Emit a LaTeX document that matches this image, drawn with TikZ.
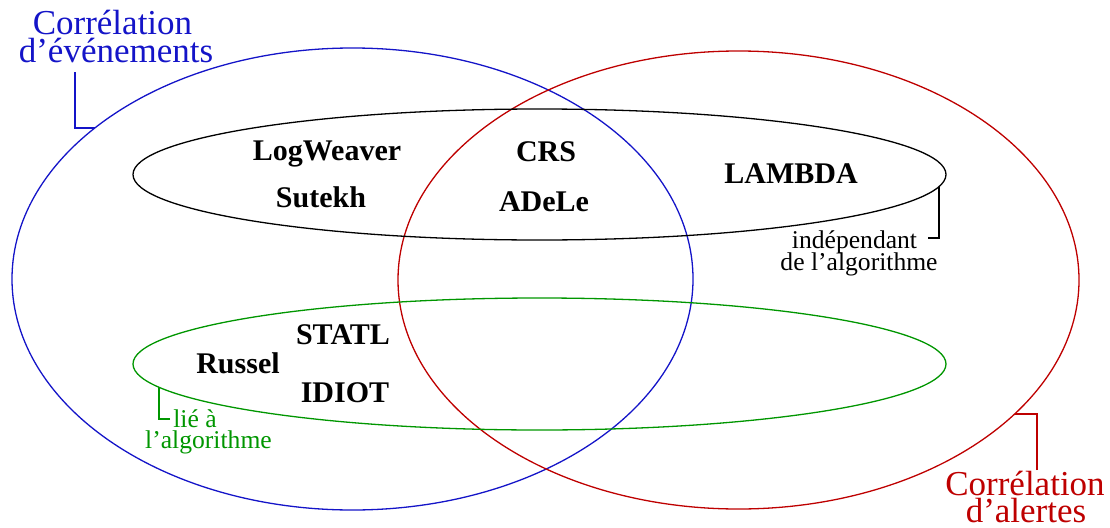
\documentclass[tikz,border=0pt]{standalone}
\usepackage{fontspec}
\setmainfont{Liberation Serif}
\definecolor{eblue}{RGB}{20,20,200}
\definecolor{ered}{RGB}{190,0,0}
\definecolor{egreen}{RGB}{0,150,0}
\tikzset{
  setline/.style={line width=1.3pt},
  tool/.style={font=\fontsize{30}{30}\selectfont\bfseries, anchor=base, inner sep=0pt},
  big/.style={font=\fontsize{35}{28}\selectfont, anchor=base, inner sep=0pt},
  small/.style={font=\fontsize{25.6}{22}\selectfont, anchor=base, inner sep=0pt},
  leader/.style={line width=1.2pt}
}
\begin{document}
\begin{tikzpicture}[x=1pt,y=-1pt]
\useasboundingbox (0,0) rectangle (1110,527);
% sets
\draw[setline,eblue] (352.5,279) ellipse [x radius=340.5, y radius=231];
\draw[setline,ered] (738.5,280) ellipse [x radius=340.5, y radius=229];
\draw[setline,black] (539.5,174.5) ellipse [x radius=406.5, y radius=65.5];
\draw[setline,egreen] (539.5,364) ellipse [x radius=406.5, y radius=66];
% tools
\node[tool] (logweaver) at (327,160) {LogWeaver};
\node[tool] (sutekh) at (321,207) {Sutekh};
\node[tool] (crs) at (546,161) {CRS};
\node[tool] (adele) at (544,211) {ADeLe};
\node[tool] (lambda) at (791,183) {LAMBDA};
\node[tool] (statl) at (343,344) {STATL};
\node[tool] (russel) at (238,373) {Russel};
\node[tool] (idiot) at (345,402) {IDIOT};
% labels
\node[big,eblue] (evt1) at (112.5,35) {Corrélation};
\node[big,eblue] (evt2) at (116,63) {d’événements};
\node[big,ered] (al1) at (1025,495) {Corrélation};
\node[big,ered] (al2) at (1026,522) {d’alertes};
\node[small,black] (ind1) at (854.5,248) {indépendant};
\node[small,black] (ind2) at (859,270) {de l’algorithme};
\node[small,egreen] (lie1) at (195,427) {lié à};
\node[small,egreen] (lie2) at (208.5,448) {l’algorithme};
% leaders
\coordinate (bA) at (75,72);   \coordinate (bB) at (95,128);
\coordinate (rA) at (1037,470); \coordinate (rB) at (1015,414);
\coordinate (kA) at (928,238);  \coordinate (kB) at (939,187);
\coordinate (gA) at (170,419);  \coordinate (gB) at (159,387);
\draw[leader,eblue] (bA) |- (bB);
\draw[leader,ered] (rA) |- (rB);
\draw[leader,black] (kA) -| (kB);
\draw[leader,egreen] (gA) -| (gB);
\end{tikzpicture}
\end{document}
